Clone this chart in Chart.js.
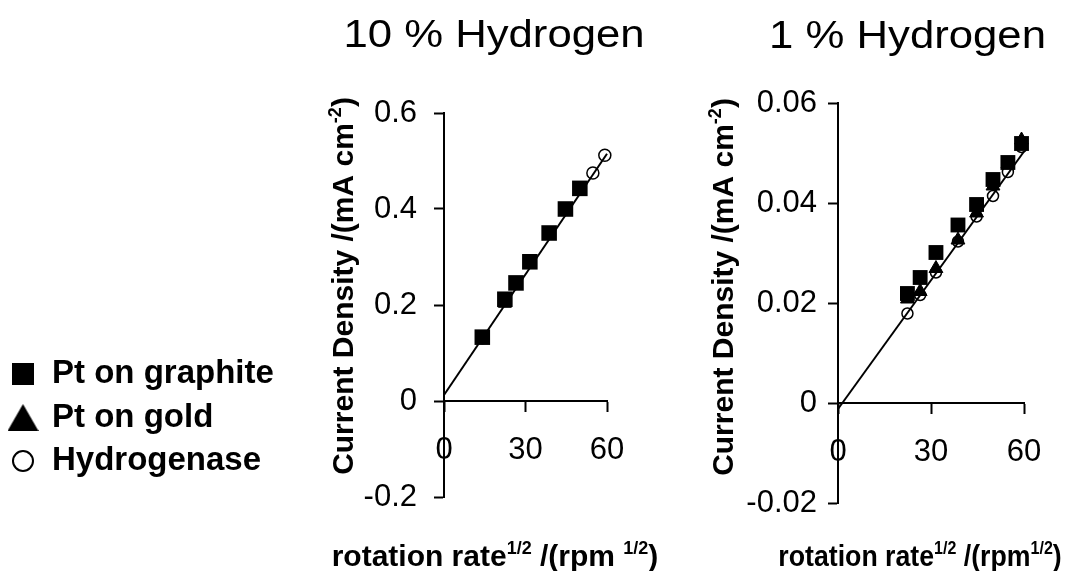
<!DOCTYPE html>
<html><head><meta charset="utf-8">
<script src="https://cdn.jsdelivr.net/npm/chart.js@4.4.1/dist/chart.umd.min.js"></script>
<style>
html,body{margin:0;padding:0;background:#fff;}
#wrap{position:relative;width:1065px;height:571px;overflow:hidden;background:#fff;}
#c1{position:absolute;left:0;top:0;}
#c2{position:absolute;left:660px;top:0;}
</style></head><body>
<div id="wrap"><canvas id="c1" width="660" height="571"></canvas><canvas id="c2" width="405" height="571"></canvas></div>
<script>
// ---------- data ----------
const seriesNames = ['Pt on graphite', 'Pt on gold', 'Hydrogenase'];
const panelTitles = ['10 % Hydrogen', '1 % Hydrogen'];

// 10 % hydrogen panel
const rate10 = [14.1, 22.4, 26.5, 31.6, 38.7, 44.7, 50.0, 54.8, 59.2];
const graphite10 = [0.133, 0.212, 0.246, 0.290, 0.350, 0.400, 0.443, null, null];
const gold10 = [0.129, 0.203, 0.241, 0.285, 0.345, 0.396, 0.439, null, null];
const hydrogenase10 = [0.132, 0.210, 0.245, 0.289, 0.349, 0.399, 0.442, 0.475, 0.512];
const fitX10 = [0, 60];
const fitY10 = [0.0125, 0.515];

// 1 % hydrogen panel
const rate1 = [22.4, 26.5, 31.6, 38.7, 44.7, 50.0, 54.8, 59.2];
const graphite1 = [0.0219, 0.0251, 0.0301, 0.0356, 0.0397, 0.0447, 0.0481, 0.0519];
const gold1 = [0.0208, 0.0223, 0.0269, 0.0326, 0.0380, 0.0434, 0.0478, 0.0526];
const hydrogenase1 = [0.0179, 0.0216, 0.0261, 0.0323, 0.0373, 0.0414, 0.0462, 0.0512];
const fitX1 = [0, 60];
const fitY1 = [-0.0012, 0.0503];

// ticks
const xTicks = [0, 30, 60];
const xTickLabels = ['0', '30', '60'];
const yTicks10 = [-0.2, 0, 0.2, 0.4, 0.6];
const yTickLabels10 = ['-0.2', '0', '0.2', '0.4', '0.6'];
const yTicks1 = [-0.02, 0, 0.02, 0.04, 0.06];
const yTickLabels1 = ['-0.02', '0', '0.02', '0.04', '0.06'];

// ---------- helpers ----------
const FAM = '"Liberation Sans", Arial, Helvetica, sans-serif';
Chart.defaults.color = '#000';
Chart.defaults.font.family = FAM;

function pts(xs, ys) {
  const out = [];
  xs.forEach((x, i) => { if (ys[i] !== null && ys[i] !== undefined) out.push({x: x, y: ys[i]}); });
  return out;
}

function markerCanvas(kind) {
  const c = document.createElement('canvas');
  let w = 22, h = 22;
  if (kind === 'triangle') { w = 31; h = 27; }
  if (kind === 'circle') { w = 24; h = 24; }
  c.width = w; c.height = h;
  const g = c.getContext('2d');
  g.fillStyle = '#000'; g.strokeStyle = '#000';
  if (kind === 'square') {
    g.fillRect(0, 0, w, h);
  } else if (kind === 'triangle') {
    g.beginPath(); g.moveTo(w / 2, 0); g.lineTo(w, h); g.lineTo(0, h); g.closePath(); g.fill();
  } else {
    g.lineWidth = 2; g.fillStyle = '#fff';
    g.beginPath(); g.arc(w / 2, h / 2, 10, 0, Math.PI * 2); g.fill(); g.stroke();
  }
  return c;
}
const legendMarkers = [markerCanvas('square'), markerCanvas('triangle'), markerCanvas('circle')];

function drawRich(ctx, segs, cx, cy, size, weight, sx, rot) {
  const supSize = Math.round(size * 0.6);
  const f = s => weight + ' ' + (s.sup ? supSize : size) + 'px ' + FAM;
  let w = 0;
  segs.forEach(s => { ctx.font = f(s); w += ctx.measureText(s.t).width; });
  ctx.save();
  ctx.translate(cx, cy);
  if (rot) ctx.rotate(rot);
  ctx.scale(sx, 1);
  ctx.fillStyle = '#000';
  ctx.textAlign = 'left';
  ctx.textBaseline = 'alphabetic';
  let x = -w / 2;
  segs.forEach(s => {
    ctx.font = f(s);
    ctx.fillText(s.t, x, s.sup ? -size * 0.4 : 0);
    x += ctx.measureText(s.t).width;
  });
  ctx.restore();
}

function textPlugin(items) {
  return {
    id: 'richTexts',
    afterDraw(chart) {
      const ctx = chart.ctx;
      items.forEach(it => drawRich(ctx, it.segs, it.x, it.y, it.size, it.weight, it.sx, it.rot));
    }
  };
}

// let the legend column use the empty space left of the first panel
const legendRoom = {
  id: 'legendRoom',
  afterLayout(chart) {
    const lg = chart.legend;
    if (lg) { lg.right = lg.left + 430; lg.width = 430; }
  }
};

function scatterSets(xs, g, au, h, fx, fy, big) {
  return [
    { type: 'line', label: 'fit', data: pts(fx, fy), borderColor: '#000', borderWidth: 2,
      pointRadius: 0, showLine: true, fill: false, clip: false, tension: 0 },
    { label: seriesNames[0], data: pts(xs, g), pointStyle: 'rect', pointRadius: big ? 11 : 10.5,
      backgroundColor: '#000', borderColor: '#000', borderWidth: 0, clip: false },
    { label: seriesNames[1], data: pts(xs, au), pointStyle: 'triangle', pointRadius: big ? 7.5 : 8,
      backgroundColor: '#000', borderColor: '#000', borderWidth: 1, clip: false },
    { label: seriesNames[2], data: pts(xs, h), pointStyle: 'circle', pointRadius: big ? 6 : 5.5,
      backgroundColor: '#fff', borderColor: '#000', borderWidth: 1.5, clip: false }
  ];
}

function scales(yT, yL, yMin, yMax, yWidthFn, yPad) {
  return {
    x: {
      type: 'linear', position: {y: 0}, min: 0, max: 60,
      afterBuildTicks: s => { s.ticks = xTicks.map(v => ({value: v})); },
      ticks: { autoSkip: false, maxRotation: 0, padding: 21, font: {size: 31, family: FAM},
               color: '#000', callback: (v, i) => xTickLabels[i] },
      grid: { display: true, drawOnChartArea: false, drawTicks: true, tickLength: 10,
              tickWidth: 2, tickColor: '#000' },
      border: { display: true, color: '#000', width: 2 }
    },
    y: {
      type: 'linear', position: 'left', min: yMin, max: yMax,
      afterBuildTicks: s => { s.ticks = yT.map(v => ({value: v})); },
      afterFit: yWidthFn,
      ticks: { autoSkip: false, padding: yPad, font: {size: 31, family: FAM}, color: '#000',
               callback: (v, i) => yL[i] },
      grid: { display: true, drawOnChartArea: false, drawTicks: true, tickLength: 10,
              tickWidth: 2, tickColor: '#000' },
      border: { display: true, color: '#000', width: 2 }
    }
  };
}

const xTitleLeft = [{t: 'rotation rate'}, {t: '1/2', sup: true}, {t: ' /(rpm '}, {t: '1/2', sup: true}, {t: ')'}];
const xTitleRight = [{t: 'rotation rate'}, {t: '1/2', sup: true}, {t: ' /(rpm'}, {t: '1/2', sup: true}, {t: ')'}];
const yTitle = [{t: 'Current Density /(mA cm'}, {t: '-2', sup: true}, {t: ')'}];

// ---------- left chart (10 %) ----------
new Chart(document.getElementById('c1'), {
  type: 'scatter',
  data: { datasets: scatterSets(rate10, graphite10, gold10, hydrogenase10, fitX10, fitY10, true) },
  options: {
    responsive: false, animation: false, devicePixelRatio: 1, events: [],
    layout: { padding: { left: 0, right: 53, top: 113, bottom: 74 } },
    scales: scales(yTicks10, yTickLabels10, -0.2, 0.6,
      s => { const lw = s.chart.legend ? s.chart.legend.width : 0; s.width = 444 - lw; }, 17),
    plugins: {
      tooltip: { enabled: false },
      title: { display: false },
      legend: {
        display: true, position: 'left', align: 'start',
        title: { display: true, text: '', font: {size: 10}, padding: {top: 0, bottom: 222} },
        labels: {
          usePointStyle: true, boxWidth: 25, boxHeight: 22, padding: 10.5,
          font: { size: 33, weight: 'bold', family: FAM }, color: '#000',
          generateLabels(chart) {
            return chart.data.datasets.slice(1).map((ds, i) => ({
              text: ds.label, pointStyle: legendMarkers[i], fillStyle: '#000',
              strokeStyle: '#000', lineWidth: 0, hidden: false, datasetIndex: i + 1, fontColor: '#000'
            }));
          }
        }
      }
    }
  },
  plugins: [legendRoom, textPlugin([
    { segs: [{t: panelTitles[0]}], x: 494, y: 47, size: 38, weight: 'normal', sx: 1.15, rot: 0 },
    { segs: yTitle, x: 353, y: 286, size: 30, weight: 'bold', sx: 1, rot: -Math.PI / 2 },
    { segs: xTitleLeft, x: 495, y: 566, size: 30, weight: 'bold', sx: 1, rot: 0 }
  ])]
});

// ---------- right chart (1 %) ----------
new Chart(document.getElementById('c2'), {
  type: 'scatter',
  data: { datasets: scatterSets(rate1, graphite1, gold1, hydrogenase1, fitX1, fitY1, false) },
  options: {
    responsive: false, animation: false, devicePixelRatio: 1, events: [],
    layout: { padding: { left: 0, right: 41, top: 103, bottom: 68 } },
    scales: scales(yTicks1, yTickLabels1, -0.02, 0.06, s => { s.width = 178; }, 11),
    plugins: { tooltip: { enabled: false }, title: { display: false }, legend: { display: false } }
  },
  plugins: [textPlugin([
    { segs: [{t: panelTitles[1]}], x: 247.5, y: 48, size: 38, weight: 'normal', sx: 1.15, rot: 0 },
    { segs: yTitle, x: 73, y: 287, size: 30, weight: 'bold', sx: 1, rot: -Math.PI / 2 },
    { segs: xTitleRight, x: 260, y: 566, size: 30, weight: 'bold', sx: 0.89, rot: 0 }
  ])]
});
</script>
</body></html>
